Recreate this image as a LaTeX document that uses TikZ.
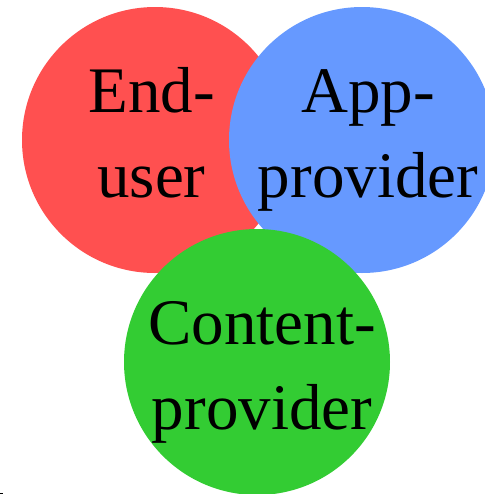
\documentclass[tikz,border=0pt]{standalone}
\usepackage{fontspec}
\setmainfont{Liberation Serif}
\newdimen\pxu
\pxu=0.75pt
\tikzset{
  bubble/.style={circle,minimum size=266\pxu,inner sep=0pt},
  bubbletext/.style={inner sep=0pt,align=center,font=\fontsize{65\pxu}{85\pxu}\selectfont,text=black},
}
\definecolor{cred}{HTML}{FF5050}
\definecolor{cblue}{HTML}{6699FF}
\definecolor{cgreen}{HTML}{33CC33}
\begin{document}
\begin{tikzpicture}[x=0.75pt,y=-0.75pt]
\useasboundingbox (0,0) rectangle (485,494);
\node[bubble,fill=cred] (enduser) at (155,140) {};
\node[bubble,fill=cblue] (appprovider) at (362,140) {};
\node[bubble,fill=cgreen] (contentprovider) at (257,362) {};
\node[bubbletext] (enduserlabel) at (151.5,133) {End-\\user};
\node[bubbletext] (appproviderlabel) at (368,140) {App-\\provider};
\node[bubbletext] (contentproviderlabel) at (262,372) {Content-\\provider};
\fill[black] (0,493) rectangle (3,494);
\end{tikzpicture}
\end{document}
